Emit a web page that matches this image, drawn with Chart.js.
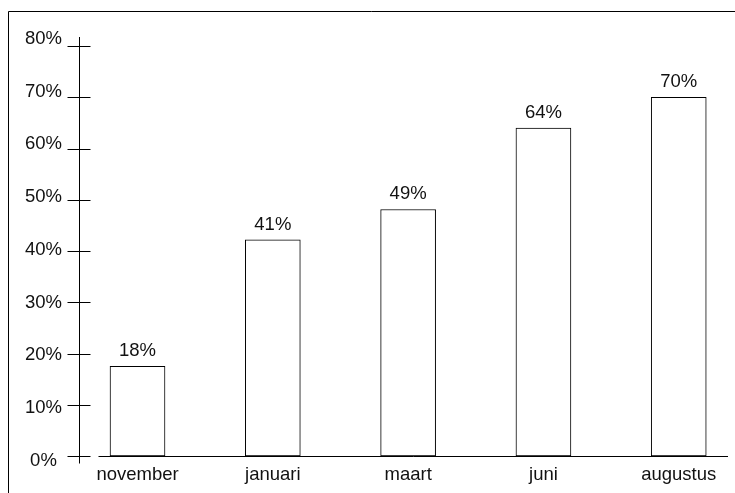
<!DOCTYPE html>
<html>
<head>
<meta charset="utf-8">
<script src="https://cdn.jsdelivr.net/npm/chart.js@4/dist/chart.umd.min.js"></script>
<style>
  html, body { margin: 0; padding: 0; background: #fff; }
  canvas { display: block; }
</style>
</head>
<body>
<canvas id="chart" width="735" height="493"></canvas>
<script>
// Chart data
const categories = ['november', 'januari', 'maart', 'juni', 'augustus'];
const values = [17.5, 42.2, 48.1, 64, 70];
const valueLabels = ['18%', '41%', '49%', '64%', '70%'];
const yTicks = [0, 10, 20, 30, 40, 50, 60, 70, 80];

const FONT = { family: "'Liberation Sans', Arial, sans-serif", size: 18.5 };
const TEXT = '#111';

// Frame, axis line, crossing ticks, baseline and value labels
const axisPlugin = {
  id: 'axisPlugin',
  beforeDraw(chart) {
    const ctx = chart.ctx;
    ctx.save();
    ctx.strokeStyle = '#000';
    ctx.lineWidth = 1;
    ctx.beginPath();
    ctx.moveTo(8.5, chart.height);
    ctx.lineTo(8.5, 11.5);
    ctx.lineTo(chart.width, 11.5);
    ctx.stroke();
    ctx.restore();
  },
  afterDatasetsDraw(chart) {
    const ctx = chart.ctx;
    const yb = chart.scales.yb;
    const area = chart.chartArea;
    const ax = Math.round(area.left) + 0.5;
    const y0 = Math.round(yb.getPixelForValue(0)) + 0.5;

    ctx.save();
    ctx.strokeStyle = '#000';
    ctx.lineWidth = 1;
    ctx.beginPath();
    ctx.moveTo(ax, area.top - 2);
    ctx.lineTo(ax, y0 + 7);
    yTicks.forEach(v => {
      const y = Math.round(yb.getPixelForValue(v)) + 0.5;
      ctx.moveTo(ax - 12, y);
      ctx.lineTo(ax + 11, y);
    });
    ctx.moveTo(ax + 19, y0);
    ctx.lineTo(area.right, y0);
    ctx.stroke();

    // labels above bars
    const meta = chart.getDatasetMeta(0);
    ctx.font = FONT.size + 'px ' + FONT.family;
    ctx.fillStyle = TEXT;
    ctx.textAlign = 'center';
    ctx.textBaseline = 'alphabetic';
    meta.data.forEach((bar, i) => {
      ctx.fillText(valueLabels[i], bar.x, bar.y - 10);
    });
    ctx.restore();
  }
};

new Chart(document.getElementById('chart'), {
  type: 'bar',
  data: {
    datasets: [{
      data: values.map((v, i) => ({ x: i, y: v })),
      yAxisID: 'yb',
      backgroundColor: '#fff',
      borderColor: '#000',
      borderWidth: 1,
      borderSkipped: false,
      barThickness: 55
    }]
  },
  options: {
    responsive: false,
    animation: false,
    layout: { padding: { left: 8, top: 39, right: 7, bottom: 0 } },
    plugins: {
      legend: { display: false },
      tooltip: { enabled: false }
    },
    scales: {
      x: {
        type: 'linear',
        position: 'bottom',
        offset: false,
        min: -0.4324,
        max: 4.364,
        afterBuildTicks: s => { s.ticks = categories.map((c, i) => ({ value: i })); },
        afterFit: s => { s.height = 32.4; s.paddingLeft = 0; s.paddingRight = 0; },
        grid: { display: false, drawTicks: false, offset: false },
        border: { display: false },
        ticks: {
          autoSkip: false,
          maxRotation: 0,
          padding: 3,
          color: TEXT,
          font: FONT,
          callback: v => categories[v]
        }
      },
      y: {
        type: 'linear',
        position: 'left',
        min: 0,
        max: 80,
        afterBuildTicks: s => { s.ticks = yTicks.map(v => ({ value: v })); },
        afterFit: s => { s.width = 71; },
        grid: { display: false, drawTicks: false },
        border: { display: false },
        ticks: {
          crossAlign: 'center',
          padding: 17,
          color: TEXT,
          font: FONT,
          callback: v => v + '%'
        }
      },
      yb: {
        type: 'linear',
        display: false,
        min: -0.8976,
        max: 81.366
      }
    }
  },
  plugins: [axisPlugin]
});
</script>
</body>
</html>
